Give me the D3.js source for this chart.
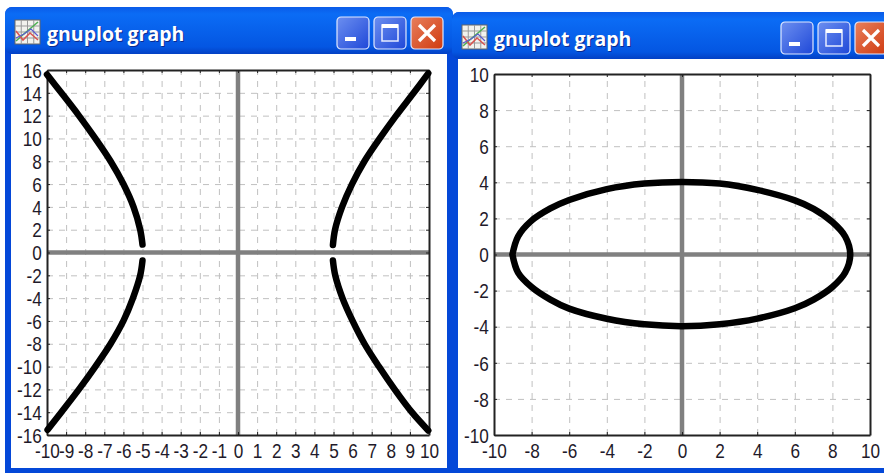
<!DOCTYPE html>
<html>
<head>
<meta charset="utf-8">
<title>gnuplot graph</title>
<script src="https://cdnjs.cloudflare.com/ajax/libs/d3/7.8.5/d3.min.js"></script>
<style>
  html, body { margin: 0; padding: 0; background: #fff; overflow: hidden; }
  svg { display: block; }
  .tick text { font-family: "Liberation Sans", Arial, sans-serif; font-size: 20px; fill: #1f1a2a; }
  .title { font-family: "Open Sans", "Noto Sans", sans-serif; font-weight: 700; font-size: 19.5px; fill: #fff; }
</style>
</head>
<body>
<svg id="chart" width="884" height="473"></svg>
<script>
// hyperbola
let hypXTicks = [-10, -9, -8, -7, -6, -5, -4, -3, -2, -1, 0, 1, 2, 3, 4, 5, 6, 7, 8, 9, 10];
let hypYTicks = [-16, -14, -12, -10, -8, -6, -4, -2, 0, 2, 4, 6, 8, 10, 12, 14, 16];
let upperLeftX = [-10, -9.25, -8.33, -7.47, -6.67, -6.0, -5.47, -5.12, -5.0];
let upperLeftY = [15.6, 14, 12, 10, 8, 6, 4, 2, 0.7];
let upperRightX = [4.97, 5.08, 5.45, 5.97, 6.62, 7.42, 8.28, 9.2, 9.96];
let upperRightY = [0.65, 2, 4, 6, 8, 10, 12, 14, 15.7];
let lowerLeftX = [-5.0, -5.12, -5.5, -6.0, -6.67, -7.47, -8.33, -9.25, -9.97];
let lowerLeftY = [-0.7, -2, -4, -6, -8, -10, -12, -14, -15.55];
let lowerRightX = [4.97, 5.09, 5.47, 6.0, 6.62, 7.38, 8.2, 9.1, 9.96];
let lowerRightY = [-0.7, -2, -4, -6, -8, -10, -12, -14, -15.6];

// ellipse
let ellXTicks = [-10, -8, -6, -4, -2, 0, 2, 4, 6, 8, 10];
let ellYTicks = [-10, -8, -6, -4, -2, 0, 2, 4, 6, 8, 10];
let ellipseX = [-9.02, -8.72, -8.03, -7, -6, -4, -2, 0, 2, 4, 6, 7, 8, 8.68, 8.95, 8.68, 8, 7, 6, 4, 2, 0, -2, -4, -6, -7, -8, -8.72, -9.02];
let ellipseY = [0, 1, 1.85, 2.55, 3.02, 3.62, 3.93, 4.02, 3.93, 3.58, 3.0, 2.53, 1.8, 1, 0, -1, -1.8, -2.5, -2.98, -3.55, -3.86, -3.97, -3.87, -3.56, -3, -2.5, -1.8, -1, 0];

let svg = d3.select("#chart");
let defs = svg.append("defs");

let titleGrad = defs.append("linearGradient").attr("id", "titleGrad")
    .attr("x1", 0).attr("y1", 0).attr("x2", 0).attr("y2", 1);
titleGrad.append("stop").attr("offset", "0%").attr("stop-color", "#0a5be8");
titleGrad.append("stop").attr("offset", "15%").attr("stop-color", "#0b6cf5");
titleGrad.append("stop").attr("offset", "85%").attr("stop-color", "#0456e2");
titleGrad.append("stop").attr("offset", "100%").attr("stop-color", "#0340c4");

let btnGrad = defs.append("linearGradient").attr("id", "btnGrad")
    .attr("x1", 0).attr("y1", 0).attr("x2", 1).attr("y2", 1);
btnGrad.append("stop").attr("offset", "0%").attr("stop-color", "#6c8ff0");
btnGrad.append("stop").attr("offset", "100%").attr("stop-color", "#1f48d8");

let closeGrad = defs.append("linearGradient").attr("id", "closeGrad")
    .attr("x1", 0).attr("y1", 0).attr("x2", 1).attr("y2", 1);
closeGrad.append("stop").attr("offset", "0%").attr("stop-color", "#e8805c");
closeGrad.append("stop").attr("offset", "100%").attr("stop-color", "#d03a10");

function drawWindow(win) {
  let g = svg.append("g");
  g.append("rect").attr("x", win.x).attr("y", win.y).attr("width", win.w).attr("height", 473 - win.y + 8)
      .attr("rx", 7).attr("fill", "#0448d8");
  g.append("rect").attr("x", win.x).attr("y", win.y).attr("width", win.w).attr("height", win.titleH)
      .attr("rx", 7).attr("fill", "url(#titleGrad)");
  g.append("rect").attr("x", win.cx0).attr("y", win.y + win.titleH).attr("width", win.cx1 - win.cx0).attr("height", win.cy1 - win.y - win.titleH)
      .attr("fill", "#fff");

  // title icon
  let ic = g.append("g").attr("transform", "translate(" + (win.x + 10) + "," + (win.y + 13) + ")");
  ic.append("rect").attr("width", 25).attr("height", 24).attr("fill", "#f2f2ee").attr("stroke", "#666");
  d3.range(1, 4).forEach(function(i) {
    ic.append("line").attr("x1", i * 6.25).attr("x2", i * 6.25).attr("y1", 0).attr("y2", 24).attr("stroke", "#999");
    ic.append("line").attr("y1", i * 6).attr("y2", i * 6).attr("x1", 0).attr("x2", 25).attr("stroke", "#999");
  });
  ic.append("path").attr("d", "M1,21L10,13L23,2").attr("fill", "none").attr("stroke", "#4caf50").attr("stroke-width", 1.5);
  ic.append("path").attr("d", "M1,11L8,20L15,13L23,20").attr("fill", "none").attr("stroke", "#d9534f").attr("stroke-width", 1.5);
  ic.append("path").attr("d", "M1,18L9,14L16,9L23,16").attr("fill", "none").attr("stroke", "#5a5ad0").attr("stroke-width", 1.2);

  g.append("text").attr("class", "title").attr("x", win.x + 42).attr("y", win.y + 34)
      .style("fill", "#0a2a90").attr("dx", 1).attr("dy", 1).text("gnuplot graph");
  g.append("text").attr("class", "title").attr("x", win.x + 42).attr("y", win.y + 34).text("gnuplot graph");

  // minimise, maximise, close
  let by = win.y + 10, bs = 32;
  [win.btnX, win.btnX + 37, win.btnX + 74].forEach(function(bx, i) {
    let b = g.append("g").attr("transform", "translate(" + bx + "," + by + ")");
    b.append("rect").attr("width", bs).attr("height", bs).attr("rx", 4)
        .attr("fill", i == 2 ? "url(#closeGrad)" : "url(#btnGrad)")
        .attr("stroke", "#dfe8ff").attr("stroke-width", 1.2);
    if (i == 0) b.append("rect").attr("x", 8).attr("y", 20).attr("width", 11).attr("height", 4).attr("fill", "#fff");
    if (i == 1) {
      b.append("rect").attr("x", 8).attr("y", 8).attr("width", 16).attr("height", 16).attr("fill", "none").attr("stroke", "#e6ecff").attr("stroke-width", 1.5);
      b.append("rect").attr("x", 8).attr("y", 7).attr("width", 16).attr("height", 4).attr("fill", "#fff");
    }
    if (i == 2) b.append("path").attr("d", "M8,8L24,24M24,8L8,24").attr("stroke", "#fff").attr("stroke-width", 3.2);
  });
}

function drawPlot(p, xTicks, yTicks, xDomain, yDomain, curves) {
  let x = d3.scaleLinear().domain(xDomain).range([p.left, p.right]);
  let y = d3.scaleLinear().domain(yDomain).range([p.bottom, p.top]);
  let g = svg.append("g");
  let label = function(d) { return String(d); }; // plain hyphen, like the original

  // dashed grid
  g.append("g").attr("transform", "translate(0," + p.bottom + ")")
      .call(d3.axisBottom(x).tickValues(xTicks).tickSize(p.top - p.bottom).tickFormat(""))
      .call(function(s) { s.select(".domain").remove(); })
      .selectAll("line").attr("stroke", "#c0c0c0").attr("stroke-width", 1).attr("stroke-dasharray", "6,6");
  g.append("g").attr("transform", "translate(" + p.left + ",0)")
      .call(d3.axisLeft(y).tickValues(yTicks).tickSize(p.left - p.right).tickFormat(""))
      .call(function(s) { s.select(".domain").remove(); })
      .selectAll("line").attr("stroke", "#c0c0c0").attr("stroke-width", 1).attr("stroke-dasharray", "6,6");

  // zero axes
  g.append("line").attr("x1", x(0)).attr("x2", x(0)).attr("y1", p.top).attr("y2", p.bottom)
      .attr("stroke", "#808080").attr("stroke-width", 4.5);
  g.append("line").attr("x1", p.left).attr("x2", p.right).attr("y1", y(0)).attr("y2", y(0))
      .attr("stroke", "#808080").attr("stroke-width", 4.5);

  // border with inward ticks
  let bottomAxis = g.append("g").attr("transform", "translate(0," + p.bottom + ")")
      .call(d3.axisBottom(x).tickValues(xTicks).tickSize(-3).tickPadding(9).tickSizeOuter(0).tickFormat(label));
  let leftAxis = g.append("g").attr("transform", "translate(" + p.left + ",0)")
      .call(d3.axisLeft(y).tickValues(yTicks).tickSize(-3).tickPadding(6).tickSizeOuter(0).tickFormat(label));
  g.append("g").attr("transform", "translate(0," + p.top + ")")
      .call(d3.axisTop(x).tickValues(xTicks).tickSize(-3).tickFormat("").tickSizeOuter(0));
  g.append("g").attr("transform", "translate(" + p.right + ",0)")
      .call(d3.axisRight(y).tickValues(yTicks).tickSize(-3).tickFormat("").tickSizeOuter(0));
  g.selectAll(".domain").attr("stroke", "#222").attr("stroke-width", 2);
  g.selectAll(".tick line").filter(function() { return !this.getAttribute("stroke-dasharray"); })
      .attr("stroke", "#222");
  // the original labels are tall and narrow
  bottomAxis.selectAll("text").attr("dy", "0.71em").attr("transform", "scale(0.86,1)");
  leftAxis.selectAll("text").attr("dy", "0.36em").attr("transform", "scale(0.86,1)");

  let line = d3.line().x(function(d) { return x(d[0]); }).y(function(d) { return y(d[1]); })
      .curve(d3.curveCatmullRom);
  curves.forEach(function(c) {
    g.append("path").attr("d", line(d3.zip(c[0], c[1])))
        .attr("fill", "none").attr("stroke", "#000").attr("stroke-width", 6.5)
        .attr("stroke-linecap", "round").attr("stroke-linejoin", "round");
  });
}

let leftWin = { x: 5, y: 7, w: 448, titleH: 47, cx0: 11, cx1: 447, cy1: 468, btnX: 337 };
let rightWin = { x: 452, y: 12, w: 440, titleH: 47, cx0: 458, cx1: 884, cy1: 468, btnX: 781 };
drawWindow(leftWin);
drawWindow(rightWin);

drawPlot({ left: 47, right: 429, top: 70, bottom: 435 }, hypXTicks, hypYTicks, [-10, 10], [-16, 16], [
  [upperLeftX, upperLeftY],
  [upperRightX, upperRightY],
  [lowerLeftX, lowerLeftY],
  [lowerRightX, lowerRightY]
]);
drawPlot({ left: 494, right: 870, top: 74, bottom: 435 }, ellXTicks, ellYTicks, [-10, 10], [-10, 10], [
  [ellipseX, ellipseY]
]);
</script>
</body>
</html>
